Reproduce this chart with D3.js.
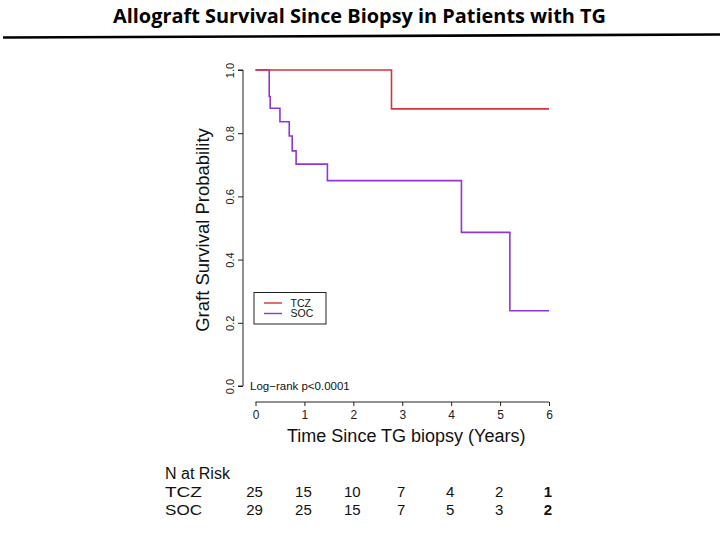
<!DOCTYPE html>
<html>
<head>
<meta charset="utf-8">
<script src="https://cdn.jsdelivr.net/npm/d3@7"></script>
<style>
  html, body { margin: 0; padding: 0; background: #fff; }
  svg { display: block; }
  text { font-family: "Liberation Sans", Arial, Helvetica, sans-serif; fill: #111; }
</style>
</head>
<body>
<svg id="chart" width="720" height="540"></svg>
<script>
// ---- Data ----
const titleText = "Allograft Survival Since Biopsy in Patients with TG";
const groups = ["TCZ", "SOC"];
const tczTimes = [0, 2.78, 6];
const tczSurv  = [1, 0.877, 0.877];
const socTimes = [0, 0.28, 0.30, 0.50, 0.69, 0.75, 0.83, 1.47, 4.21, 5.20, 6];
const socSurv  = [1, 0.916, 0.879, 0.836, 0.791, 0.744, 0.702, 0.650, 0.486, 0.238, 0.238];
const xTicks = [0, 1, 2, 3, 4, 5, 6];
const yTicks = [0, 0.2, 0.4, 0.6, 0.8, 1.0];
const riskTimes = [0, 1, 2, 3, 4, 5, 6];
const riskTCZ = [25, 15, 10, 7, 4, 2, 1];
const riskSOC = [29, 25, 15, 7, 5, 3, 2];
const pText = "Log\u2212rank p<0.0001";
const xTitle = "Time Since TG biopsy (Years)";
const yTitle = "Graft Survival Probability";

// ---- Setup ----
const svg = d3.select("#chart");
const colors = { TCZ: "#d8323a", SOC: "#9035d6" };

const x = d3.scaleLinear().domain([0, 6]).range([255.5, 549]);
const y = d3.scaleLinear().domain([0, 1]).range([386, 70]);

// Title
svg.append("text")
  .attr("x", 113).attr("y", 23)
  .attr("textLength", 493).attr("lengthAdjust", "spacingAndGlyphs")
  .style("font-family", "'Open Sans', 'Liberation Sans', sans-serif")
  .style("font-weight", "bold").style("font-size", "19px")
  .style("fill", "#000")
  .text(titleText);
svg.append("line")
  .attr("x1", 3).attr("y1", 37.5).attr("x2", 720).attr("y2", 34.5)
  .attr("stroke", "#000").attr("stroke-width", 2.6);

// Y axis (R style)
const yAxisX = 243;
const yAxis = svg.append("g").attr("transform", `translate(${yAxisX},0)`)
  .call(d3.axisLeft(y).tickValues(yTicks).tickSize(5).tickFormat(d3.format(".1f")));
yAxis.select(".domain").attr("stroke", "#222").attr("d", `M-5,${y(0)}H0V${y(1)}H-5`);
yAxis.selectAll(".tick line").attr("stroke", "#222");
yAxis.selectAll(".tick text")
  .attr("x", null).attr("dy", null)
  .attr("text-anchor", "middle")
  .attr("transform", "translate(-9,0) rotate(-90)")
  .attr("y", 0)
  .style("font-size", "11px").style("fill", "#222");

svg.append("text")
  .attr("transform", `translate(209,${(y(0) + y(1)) / 2 + 2}) rotate(-90)`)
  .attr("text-anchor", "middle")
  .style("font-size", "18.5px").style("fill", "#111")
  .text(yTitle);

// X axis (R style, offset)
const xAxisY = 402;
const xAxis = svg.append("g").attr("transform", `translate(0,${xAxisY})`)
  .call(d3.axisBottom(x).tickValues(xTicks).tickSize(4).tickFormat(d3.format("d")));
xAxis.select(".domain").attr("stroke", "#222").attr("d", `M${x(0)},0H${x(6)}`);
xAxis.selectAll(".tick line").attr("stroke", "#222");
xAxis.selectAll(".tick text").attr("y", 8).style("font-size", "12px").style("fill", "#222");

svg.append("text")
  .attr("x", (x(0) + x(6)) / 2 + 4).attr("y", 441.5)
  .attr("text-anchor", "middle")
  .style("font-size", "18px").style("fill", "#111")
  .text(xTitle);

// Curves
const line = d3.line()
  .x(d => x(d[0])).y(d => y(d[1]))
  .curve(d3.curveStepAfter);
const socData = socTimes.map((t, i) => [t, socSurv[i]]);
const tczData = tczTimes.map((t, i) => [t, tczSurv[i]]);
svg.append("path").datum(socData).attr("d", line)
  .attr("fill", "none").attr("stroke", colors.SOC).attr("stroke-width", 1.6);
svg.append("path").datum(tczData).attr("d", line)
  .attr("fill", "none").attr("stroke", colors.TCZ).attr("stroke-width", 1.6);

// Legend
svg.append("rect")
  .attr("x", 254).attr("y", 292.5).attr("width", 72).attr("height", 31.5)
  .attr("fill", "#fff").attr("stroke", "#222").attr("stroke-width", 1);
groups.forEach((g, i) => {
  const ly = 303 + i * 10.5;
  svg.append("line")
    .attr("x1", 264).attr("x2", 282).attr("y1", ly).attr("y2", ly)
    .attr("stroke", colors[g]).attr("stroke-width", 1.4);
  svg.append("text")
    .attr("x", 290.5).attr("y", ly + 3.8)
    .style("font-size", "10.5px").style("fill", "#111")
    .text(g);
});

// Log-rank text
svg.append("text")
  .attr("x", 250).attr("y", 390)
  .style("font-size", "11.5px").style("fill", "#111")
  .text(pText);

// Risk table
svg.append("text").attr("x", 165).attr("y", 478.5)
  .style("font-size", "16px").style("fill", "#111").text("N at Risk");
const rows = [["TCZ", riskTCZ, 497], ["SOC", riskSOC, 515.3]];
rows.forEach(([label, vals, by]) => {
  svg.append("text").attr("x", 165).attr("y", by)
    .attr("textLength", 37).attr("lengthAdjust", "spacingAndGlyphs")
    .style("font-size", "15px").style("fill", "#111").text(label);
  svg.selectAll(null).data(vals).enter().append("text")
    .attr("x", (d, i) => x(riskTimes[i]) - 1)
    .attr("y", by)
    .attr("text-anchor", "middle")
    .style("font-size", "15px")
    .style("font-weight", (d, i) => i === vals.length - 1 ? "bold" : "normal")
    .style("fill", "#111")
    .text(d => d);
});
</script>
</body>
</html>
